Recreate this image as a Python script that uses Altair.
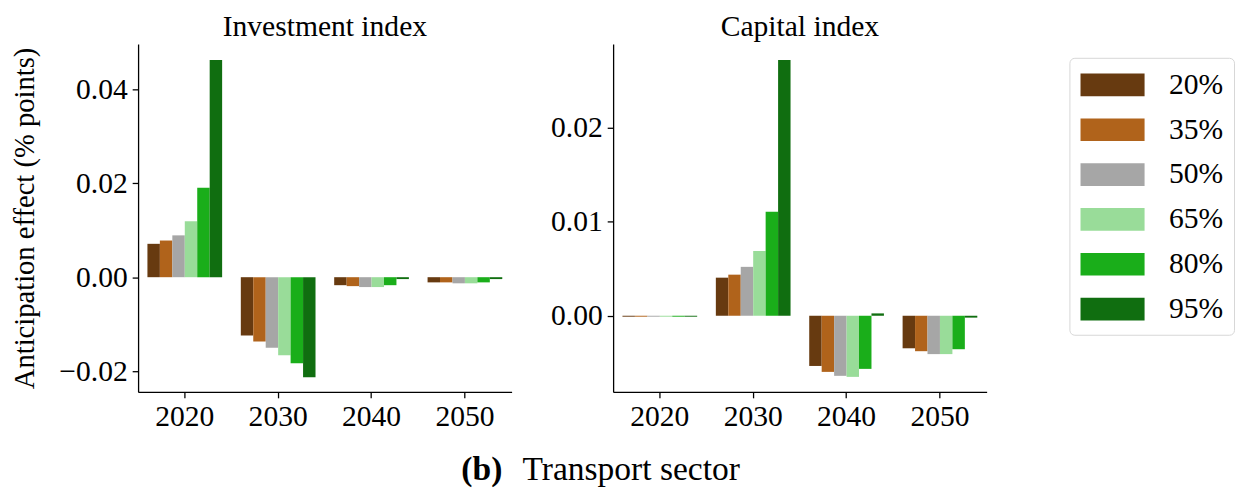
import altair as alt
import pandas as pd

years = ["2020", "2030", "2040", "2050"]
scenarios = ["20%", "35%", "50%", "65%", "80%", "95%"]
colors = ["#673a10", "#b0631b", "#a6a6a6", "#99dc99", "#1aae1a", "#106e10"]

# Investment index (per year, one value per scenario)
inv_2020 = [0.0071, 0.0078, 0.0089, 0.0119, 0.0190, 0.0462]
inv_2030 = [-0.0124, -0.0137, -0.0150, -0.0166, -0.0183, -0.0213]
inv_2040 = [-0.0017, -0.0019, -0.0021, -0.0021, -0.0017, -0.0004]
inv_2050 = [-0.0011, -0.0011, -0.0013, -0.0013, -0.0011, -0.0004]

# Capital index
cap_2020 = [-0.0001, -0.0001, -0.0001, -0.0001, -0.0001, -0.0001]
cap_2030 = [0.00405, 0.00437, 0.0052, 0.00688, 0.01107, 0.0272]
cap_2040 = [-0.00534, -0.00597, -0.00639, -0.0065, -0.00565, 0.00025]
cap_2050 = [-0.00346, -0.00377, -0.00408, -0.00408, -0.00356, -0.0002]

inv_ticks = [-0.02, 0.0, 0.02, 0.04]
cap_ticks = [0.0, 0.01, 0.02]
inv_domain = [-0.0244, 0.0496]
cap_domain = [-0.0081, 0.0289]

FONT = "Liberation Serif"


def to_frame(series):
    rows = []
    for year, vals in zip(years, series):
        for sc, v in zip(scenarios, vals):
            rows.append({"year": year, "scenario": sc, "value": v})
    return pd.DataFrame(rows)


inv_df = to_frame([inv_2020, inv_2030, inv_2040, inv_2050])
cap_df = to_frame([cap_2020, cap_2030, cap_2040, cap_2050])

legend = alt.Legend(
    title=None,
    orient="none",
    legendX=945,
    legendY=14,
    symbolType="M-1,-0.708H3V0.708H-1Z",
    symbolSize=1056,
    symbolStrokeWidth=0,
    symbolOpacity=1,
    labelFont=FONT,
    labelFontSize=30,
    labelColor="black",
    labelOffset=57,
    padding=11,
    rowPadding=13.5,
    strokeColor="#d6d6d6",
    fillColor="white",
    cornerRadius=5,
)


def panel(df, title, domain, ticks, ytitle):
    yaxis = alt.Axis(values=ticks, format=".2f", title=ytitle, titlePadding=20) if ytitle else \
        alt.Axis(values=ticks, format=".2f", title=None)
    return alt.Chart(df).mark_bar(strokeWidth=0).encode(
        x=alt.X("year:N", sort=years,
                scale=alt.Scale(paddingInner=0.2, paddingOuter=0.1),
                axis=alt.Axis(title=None, labelAngle=0, labelPadding=4)),
        xOffset=alt.XOffset("scenario:N", sort=scenarios,
                            scale=alt.Scale(paddingInner=0, paddingOuter=0)),
        y=alt.Y("value:Q", scale=alt.Scale(domain=domain, nice=False, zero=False),
                axis=yaxis),
        color=alt.Color("scenario:N", sort=scenarios,
                        scale=alt.Scale(domain=scenarios, range=colors),
                        legend=legend),
    ).properties(width=379, height=353, title=title)


p1 = panel(inv_df, "Investment index", inv_domain, inv_ticks, "Anticipation effect (% points)")
p2 = panel(cap_df, "Capital index", cap_domain, cap_ticks, None)

cap_a = alt.Chart(pd.DataFrame({"t": ["(b)"]})).mark_text(
    font=FONT, fontSize=34, fontWeight="bold", align="left", baseline="alphabetic", color="black"
).encode(text="t:N", x=alt.value(328), y=alt.value(49))
cap_b = alt.Chart(pd.DataFrame({"t": ["Transport sector"]})).mark_text(
    font=FONT, fontSize=34, align="left", baseline="alphabetic", color="black"
).encode(text="t:N", x=alt.value(390), y=alt.value(49))
caption = alt.layer(cap_a, cap_b).properties(width=860, height=57)

top = alt.hconcat(p1, p2, spacing=39)
chart = alt.vconcat(top, caption, spacing=0).properties(
    padding={"left": 2, "top": 1, "right": 0, "bottom": 0}
).configure_view(
    stroke=None
).configure_axis(
    domainColor="black", domainWidth=1.3, tickColor="black", tickWidth=1.3, tickSize=6,
    labelFont=FONT, labelFontSize=30, labelColor="black", labelPadding=5,
    titleFont=FONT, titleFontSize=29, titleFontWeight="normal", titleColor="black",
    grid=False,
).configure_title(
    font=FONT, fontSize=30, fontWeight="normal", color="black", offset=2, frame="group"
)

chart.save("out.html", embed_options={"renderer": "svg", "actions": False})
